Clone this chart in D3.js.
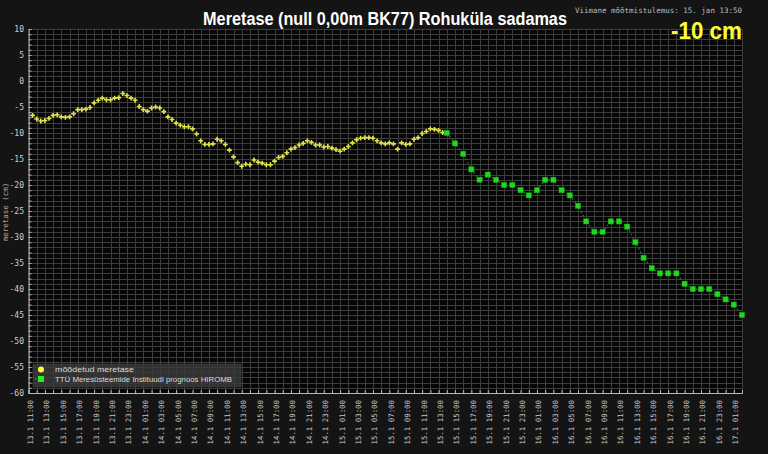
<!DOCTYPE html>
<html>
<head>
<meta charset="utf-8">
<script src="https://cdn.jsdelivr.net/npm/d3@7/dist/d3.min.js"></script>
<style>
  html, body { margin: 0; padding: 0; background: #141414; }
  svg { display: block; }
</style>
</head>
<body>
<svg id="chart" width="768" height="454"></svg>
<script>
// ---------- DATA ----------
const titleText = "Meretase (null 0,00m BK77) Rohuküla sadamas";
const lastInfo = "Viimane mõõtmistulemus: 15. jan 13:50";
const currentValue = "-10 cm";
const yLabel = "meretase (cm)";
const legendLabels = ["mõõdetud meretase", "TTÜ Meresüsteemide Instituudi prognoos HIROMB"];

const domainStart = "2013-01-13T11:00";
const domainEnd = "2013-01-17T02:00";

// measured sea level, every 30 minutes
const measuredStart = "2013-01-13T11:30";
const measuredStepMinutes = 30;
const measured = [
  -6.6,-7.3,-7.7,-7.6,-7.2,-6.6,-6.5,-6.9,-7.0,-6.9,
  -6.3,-5.5,-5.5,-5.4,-5.1,-4.2,-3.7,-3.3,-3.6,-3.6,
  -3.3,-3.2,-2.4,-2.8,-3.3,-3.7,-4.9,-5.5,-5.8,-5.2,
  -5.0,-5.2,-5.9,-6.9,-7.4,-8.1,-8.5,-8.8,-8.8,-9.2,
  -10.2,-11.5,-12.2,-12.2,-12.1,-11.2,-11.5,-12.2,-13.3,-14.6,
  -15.7,-16.4,-16.0,-16.1,-15.2,-15.6,-15.8,-16.1,-16.1,-15.4,
  -14.7,-14.5,-13.8,-13.1,-12.8,-12.3,-12.0,-11.5,-11.8,-12.3,
  -12.3,-12.7,-12.6,-12.9,-13.2,-13.5,-13.1,-12.6,-11.9,-11.3,
  -11.0,-10.9,-10.9,-11.0,-11.5,-11.9,-12.1,-11.9,-12.1,-13.1,
  -11.9,-12.2,-12.1,-11.2,-10.9,-10.1,-9.7,-9.2,-9.3,-9.5,
  -9.9
];

// HIROMB forecast, hourly
const forecastStart = "2013-01-15T14:00";
const forecastStepMinutes = 60;
const forecast = [
  -10,-12,-14,-17,-19,-18,-19,-20,-20,-21,
  -22,-21,-19,-19,-21,-22,-24,-27,-29,-29,
  -27,-27,-28,-31,-34,-36,-37,-37,-37,-39,
  -40,-40,-40,-41,-42,-43,-45
];

const yTicks = [10,5,0,-5,-10,-15,-20,-25,-30,-35,-40,-45,-50,-55,-60];
const xTickLabels = [
  "13.1 11:00","13.1 13:00","13.1 15:00","13.1 17:00","13.1 19:00","13.1 21:00","13.1 23:00",
  "14.1 01:00","14.1 03:00","14.1 05:00","14.1 07:00","14.1 09:00","14.1 11:00","14.1 13:00",
  "14.1 15:00","14.1 17:00","14.1 19:00","14.1 21:00","14.1 23:00",
  "15.1 01:00","15.1 03:00","15.1 05:00","15.1 07:00","15.1 09:00","15.1 11:00","15.1 13:00",
  "15.1 15:00","15.1 17:00","15.1 19:00","15.1 21:00","15.1 23:00",
  "16.1 01:00","16.1 03:00","16.1 05:00","16.1 07:00","16.1 09:00","16.1 11:00","16.1 13:00",
  "16.1 15:00","16.1 17:00","16.1 19:00","16.1 21:00","16.1 23:00",
  "17.1 01:00"
];

// ---------- CHART ----------
const parseT = d3.utcParse("%Y-%m-%dT%H:%M");
const parseLabel = d3.utcParse("%Y %d.%m %H:%M");
const W = 768, H = 454;
const plot = { left: 28.5, right: 742, top: 29, bottom: 393 };

const svg = d3.select("#chart");
svg.append("rect").attr("width", W).attr("height", H).attr("fill", "#141414");

const t0 = parseT(domainStart), t1 = parseT(domainEnd);
const x = d3.scaleUtc().domain([t0, t1]).range([plot.left, plot.right]);
const y = d3.scaleLinear().domain([10, -60]).range([plot.top, plot.bottom]);

const mData = measured.map((v, i) => ({ t: d3.utcMinute.offset(parseT(measuredStart), i * measuredStepMinutes), v }));
const fData = forecast.map((v, i) => ({ t: d3.utcMinute.offset(parseT(forecastStart), i * forecastStepMinutes), v }));

// plot background
svg.append("rect")
  .attr("x", plot.left).attr("y", plot.top)
  .attr("width", plot.right - plot.left).attr("height", plot.bottom - plot.top)
  .attr("fill", "#060606");

// grid
const grid = svg.append("g").attr("shape-rendering", "crispEdges");
const hours = d3.utcHour.range(t0, d3.utcHour.offset(t1, 1));
grid.selectAll("line.v").data(hours).join("line")
  .attr("x1", d => Math.round(x(d)) + 0.5).attr("x2", d => Math.round(x(d)) + 0.5)
  .attr("y1", plot.top).attr("y2", plot.bottom)
  .attr("stroke", "#3d3d3d").attr("stroke-width", 1);
const cms = d3.range(-60, 11);
grid.selectAll("line.h").data(cms).join("line")
  .attr("x1", plot.left).attr("x2", plot.right)
  .attr("y1", d => Math.round(y(d)) + 0.5).attr("y2", d => Math.round(y(d)) + 0.5)
  .attr("stroke", "#3d3d3d").attr("stroke-width", 1);

// axes
const axisColor = "#b8b8b8";
const yAxis = svg.append("g").attr("transform", `translate(${plot.left},0)`)
  .call(d3.axisRight(y).tickValues(cms).tickSize(3).tickFormat(""));
yAxis.select(".domain").attr("stroke", axisColor);
yAxis.selectAll(".tick line").attr("stroke", axisColor);
svg.append("g").selectAll("text").data(yTicks).join("text")
  .attr("x", 24).attr("y", d => y(d)).attr("dy", "0.35em")
  .attr("text-anchor", "end")
  .attr("font-family", "DejaVu Sans Mono, monospace").attr("font-size", 8)
  .attr("fill", "#cfcfcf").text(d => d);

const xAxis = svg.append("g").attr("transform", `translate(0,${plot.bottom})`)
  .call(d3.axisTop(x).tickValues(hours.filter(h => h <= t1)).tickSize(3).tickFormat(""));
xAxis.select(".domain").attr("stroke", axisColor);
xAxis.selectAll(".tick line").attr("stroke", axisColor);

const xLabels = xTickLabels.map(s => ({ s, t: parseLabel("2013 " + s) }));
svg.append("g").selectAll("text").data(xLabels).join("text")
  .attr("transform", d => `translate(${x(d.t) + 4.5},400) rotate(-90)`)
  .attr("text-anchor", "end")
  .attr("font-family", "DejaVu Sans Mono, monospace").attr("font-size", 7.4)
  .attr("fill", "#c8c8c8")
  .attr("xml:space", "preserve")
  .text(d => d.s);

// y label
svg.append("text")
  .attr("transform", `translate(8,212) rotate(-90)`)
  .attr("text-anchor", "middle")
  .attr("font-family", "DejaVu Sans Mono, monospace").attr("font-size", 7.5)
  .attr("fill", "#a8a8a8").text(yLabel);

// forecast dotted line
const line = d3.line().x(d => x(d.t)).y(d => y(d.v));
svg.append("path").datum(fData).attr("d", line)
  .attr("fill", "none").attr("stroke", "#139a13").attr("stroke-width", 1.2)
  .attr("stroke-dasharray", "1.5,2.5");

// measured markers
svg.append("g").selectAll("path").data(mData).join("path")
  .attr("transform", d => `translate(${x(d.t)},${y(d.v)})`)
  .attr("d", d3.symbol(d3.symbolCross, 13))
  .attr("fill", "#e2e24e");

// forecast markers
svg.append("g").selectAll("rect").data(fData).join("rect")
  .attr("x", d => x(d.t) - 2.6).attr("y", d => y(d.v) - 2.6)
  .attr("width", 5.2).attr("height", 5.2)
  .attr("fill", "#22d822").attr("stroke", "#0fa80f").attr("stroke-width", 0.5);

// legend
const lg = svg.append("g");
lg.append("rect").attr("x", 33).attr("y", 364).attr("width", 208).attr("height", 23)
  .attr("fill", "#3a3a3a").attr("fill-opacity", 0.85).attr("stroke", "#4a4a4a").attr("stroke-width", 0.5);
lg.append("circle").attr("cx", 41).attr("cy", 369.5).attr("r", 3).attr("fill", "#ffff33");
lg.append("line").attr("x1", 35).attr("x2", 41).attr("y1", 379).attr("y2", 379)
  .attr("stroke", "#22d822").attr("stroke-width", 1).attr("stroke-dasharray", "1.5,1.5");
lg.append("rect").attr("x", 38).attr("y", 376).attr("width", 6).attr("height", 6).attr("fill", "#22ee22");
lg.selectAll("text").data(legendLabels).join("text")
  .attr("x", 55).attr("y", (d, i) => 372 + i * 9.5)
  .attr("font-family", "Liberation Sans, Arial, sans-serif").attr("font-size", 8)
  .attr("fill", "#dcdcdc")
  .attr("textLength", (d, i) => i === 0 ? 79 : 177).attr("lengthAdjust", "spacingAndGlyphs")
  .text(d => d);

// scaled (condensed) text helper: fits natural width to target width via transform
function fitText(sel, cx, cy, anchor, targetW) {
  const w = sel.node().getComputedTextLength();
  const sx = targetW / w;
  sel.attr("text-anchor", anchor).attr("transform", `translate(${cx},${cy}) scale(${sx},1)`);
}

// title & header texts
const title = svg.append("text")
  .attr("font-family", "Liberation Sans, Arial, sans-serif").attr("font-weight", "bold")
  .attr("font-size", 18.5).attr("fill", "#ffffff").text(titleText);
fitText(title, 385, 25, "middle", 364);

svg.append("text").attr("x", 742).attr("y", 12.5).attr("text-anchor", "end")
  .attr("font-family", "DejaVu Sans Mono, monospace").attr("font-size", 7.5)
  .attr("fill", "#bdbdbd").text(lastInfo);

const cur = svg.append("text")
  .attr("font-family", "Liberation Sans, Arial, sans-serif").attr("font-weight", "bold")
  .attr("font-size", 24).attr("fill", "#ffff33").text(currentValue);
fitText(cur, 742, 39, "end", 71);
</script>
</body>
</html>
